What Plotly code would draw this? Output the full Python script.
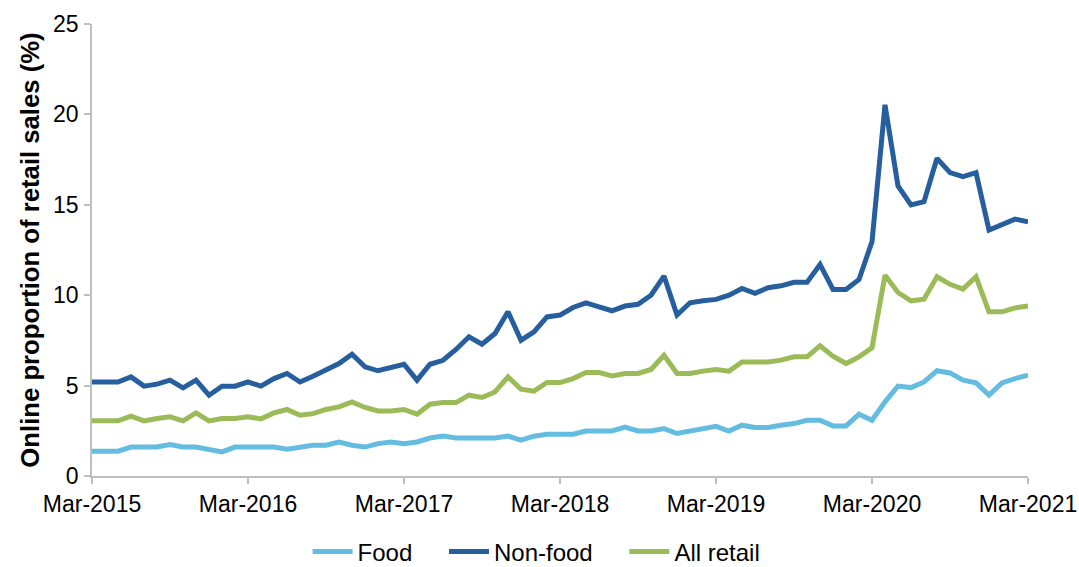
import plotly.graph_objects as go

months = ["Jan", "Feb", "Mar", "Apr", "May", "Jun", "Jul", "Aug", "Sep", "Oct", "Nov", "Dec"]
periods = []
for y in range(2015, 2022):
    for m in months:
        periods.append(f"{m}-{y}")
periods = periods[2:2 + 73]  # Mar-2015 .. Mar-2021

food = [1.37, 1.37, 1.37, 1.6, 1.6, 1.6, 1.74, 1.6, 1.6, 1.48, 1.33, 1.6,
        1.6, 1.6, 1.6, 1.48, 1.56, 1.7, 1.7, 1.88, 1.7, 1.6, 1.79, 1.88,
        1.79, 1.88, 2.1, 2.21, 2.1, 2.1, 2.1, 2.1, 2.21, 1.98, 2.2, 2.31,
        2.31, 2.31, 2.49, 2.49, 2.49, 2.71, 2.49, 2.49, 2.62, 2.35, 2.49, 2.62,
        2.75, 2.49, 2.81, 2.68, 2.68, 2.81, 2.9, 3.08, 3.08, 2.77, 2.77, 3.42,
        3.08, 4.1, 4.97, 4.89, 5.2, 5.82, 5.7, 5.3, 5.15, 4.47, 5.15, 5.39,
        5.58]

non_food = [5.2, 5.2, 5.2, 5.48, 4.97, 5.08, 5.3, 4.87, 5.3, 4.47, 4.97, 4.97,
            5.2, 4.97, 5.39, 5.67, 5.2, 5.52, 5.85, 6.22, 6.74, 6.04, 5.82, 6.0,
            6.18, 5.3, 6.18, 6.4, 7.0, 7.7, 7.29, 7.88, 9.08, 7.51, 7.97, 8.8,
            8.9, 9.32, 9.58, 9.36, 9.14, 9.4, 9.5, 10.0, 11.06, 8.9, 9.58, 9.69,
            9.77, 10.0, 10.37, 10.1, 10.41, 10.52, 10.71, 10.71, 11.7, 10.32, 10.32, 10.87,
            12.96, 20.53, 16.04, 14.99, 15.17, 17.57, 16.78, 16.56, 16.78, 13.6, 13.88, 14.21,
            14.06]

all_retail = [3.05, 3.05, 3.05, 3.31, 3.05, 3.18, 3.27, 3.05, 3.49, 3.05, 3.18, 3.18,
              3.27, 3.16, 3.49, 3.68, 3.36, 3.45, 3.68, 3.82, 4.1, 3.79, 3.6, 3.6,
              3.68, 3.42, 3.97, 4.06, 4.06, 4.47, 4.34, 4.65, 5.48, 4.8, 4.69, 5.17,
              5.17, 5.39, 5.72, 5.72, 5.54, 5.67, 5.67, 5.89, 6.68, 5.67, 5.67, 5.8,
              5.89, 5.8, 6.31, 6.31, 6.31, 6.41, 6.59, 6.59, 7.2, 6.63, 6.22, 6.59,
              7.09, 11.11, 10.15, 9.69, 9.78, 11.02, 10.6, 10.34, 11.02, 9.08, 9.08, 9.3,
              9.4]

series = [("Food", food, "#64BDE0"), ("Non-food", non_food, "#265E9E"), ("All retail", all_retail, "#9BBB59")]

x_ticks = [p for p in periods if p.startswith("Mar-")]
y_ticks = [0, 5, 10, 15, 20, 25]

fig = go.Figure()
pad = "\u00a0" * 4
for i, (name, vals, col) in enumerate(series):
    label = name + (pad if i < len(series) - 1 else "")
    fig.add_trace(go.Scatter(x=periods, y=vals, name=label, mode="lines",
                             line=dict(color=col, width=5)))

font_family = "Liberation Sans, Arial, sans-serif"
fig.update_layout(
    width=1079, height=567, autosize=False,
    margin=dict(l=92, r=51, t=24, b=91, autoexpand=False),
    paper_bgcolor="white", plot_bgcolor="white",
    font=dict(family=font_family, size=23, color="#000000"),
    showlegend=True,
    legend=dict(orientation="h", x=0.475, xanchor="center",
                y=-0.168, yanchor="middle",
                font=dict(size=24), traceorder="normal", itemwidth=40,
                bgcolor="rgba(0,0,0,0)"),
)
fig.update_xaxes(
    type="category", categoryorder="array", categoryarray=periods,
    range=[0, len(periods) - 1],
    tickmode="array", tickvals=x_ticks, ticktext=x_ticks,
    showline=True, linecolor="#BFBFBF", linewidth=1.5,
    ticks="outside", ticklen=6, tickcolor="#BFBFBF", tickwidth=1.5,
    showgrid=False, zeroline=False, ticklabelstandoff=1, automargin=False,
)
fig.update_yaxes(
    range=[0, 25], tickvals=y_ticks,
    showline=True, linecolor="#BFBFBF", linewidth=1.5,
    ticks="outside", ticklen=6, tickcolor="#BFBFBF", tickwidth=1.5,
    showgrid=False, zeroline=False, ticklabelstandoff=1, automargin=False,
    title=dict(text="<b>Online proportion of retail sales (%)</b>", font=dict(size=25.7), standoff=6),
)

fig.write_html("out.html",
               config={"displayModeBar": False},
               post_script="document.body.style.margin='0';document.body.style.overflow='hidden';")
